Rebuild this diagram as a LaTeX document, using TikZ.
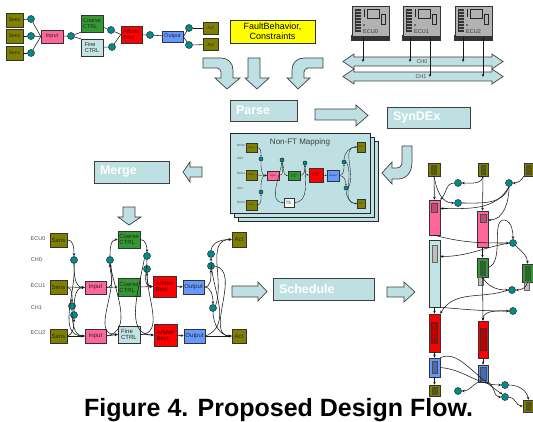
\documentclass[tikz,border=0pt]{standalone}
\usepackage{fontspec}
\setmainfont{Liberation Sans}
\usetikzlibrary{arrows.meta}
\definecolor{oliv}{RGB}{128,128,0}
\definecolor{tealc}{RGB}{0,140,140}
\definecolor{pinkc}{RGB}{255,102,153}
\definecolor{greenc}{RGB}{51,153,51}
\definecolor{finec}{RGB}{195,228,228}
\definecolor{redc}{RGB}{255,0,0}
\definecolor{bluec}{RGB}{102,153,255}
\definecolor{yelc}{RGB}{255,255,0}
\definecolor{cyanl}{RGB}{190,224,226}
\definecolor{ecug}{RGB}{178,178,178}
\begin{document}
\begin{tikzpicture}[x=1pt,y=-1pt,
  bx/.style={draw=black!80, line width=0.5pt, inner sep=0pt, align=left, text=black!85},
  sz/.style 2 args={minimum width=#1pt, minimum height=#2pt},
  fs/.style={font=\fontsize{#1}{#1}\selectfont},
  sens/.style={bx, fill=oliv},
  inp/.style={bx, fill=pinkc},
  coarse/.style={bx, fill=greenc},
  fine/.style={bx, fill=finec},
  arb/.style={bx, fill=redc, text=red!30!black},
  outp/.style={bx, fill=bluec},
  tdot/.style={circle, draw=black!85, fill=tealc, line width=0.5pt, inner sep=0pt, minimum size=#1pt},
  tdot/.default=7,
  cn/.style={draw=black!90, line width=0.55pt},
  arw/.style={cn, -{Stealth[length=3pt,width=2.6pt]}},
  arws/.style={draw=black!90, line width=0.35pt, -{Stealth[length=1.6pt,width=1.4pt]}},
  bigar/.style={fill=cyanl, draw=black!75, line width=0.7pt, line join=miter},
  stepbx/.style={fill=cyanl, draw=black!75, line width=0.8pt, inner xsep=6pt, inner ysep=0pt, align=left, text=white, font=\bfseries\fontsize{12.5}{12.5}\selectfont},
  lab/.style={fs=5.5, text=black!70, inner sep=0pt},
  ecubox/.style={fill=ecug, draw=black!80, line width=0.9pt, inner sep=0pt, minimum width=37pt, minimum height=30pt},
]
\useasboundingbox (0,0) rectangle (533,422);
\clip (0,0) rectangle (533,422);

% ---------------- top-left graph ----------------
\node[sens, sz={17}{14}, fs=5] (t_s1) at (14.5,20) {Sens};
\node[sens, sz={17}{14}, fs=5] (t_s2) at (14.5,36) {Sens};
\node[sens, sz={17}{14}, fs=5] (t_s3) at (14.5,53) {Sens};
\node[tdot] (t_c1) at (31,19) {};
\node[tdot] (t_c2) at (31,36) {};
\node[tdot] (t_c3) at (31,53) {};
\node[inp, sz={22}{13}, fs=5.5] (t_in) at (52,36.5) {Input};
\node[tdot] (t_c4) at (71,36) {};
\node[coarse, sz={22}{17}, fs=5.5] (t_co) at (92,23.5) {Coarse\\CTRL};
\node[fine, sz={22}{17}, fs=5.5] (t_fi) at (92,47.5) {Fine\\CTRL};
\node[tdot] (t_c5) at (111,30) {};
\node[tdot] (t_c6) at (112,47) {};
\node[arb, sz={21}{17}, fs=5.5] (t_ar) at (131.5,34.5) {Arbiter\\Best};
\node[tdot] (t_c7) at (150,35) {};
\node[outp, sz={21}{11}, fs=5.5] (t_ou) at (172.5,36.5) {Output};
\node[tdot] (t_c8) at (189,28) {};
\node[tdot] (t_c9) at (189,45) {};
\node[sens, sz={15}{12}, fs=4.5] (t_a1) at (210.5,28) {Act};
\node[sens, sz={15}{12}, fs=4.5] (t_a2) at (210.5,44.5) {Act};
\draw[cn] (t_s1) -- (t_c1);
\draw[cn] (t_s2) -- (t_c2);
\draw[cn] (t_s3) -- (t_c3);
\draw[cn] (t_c1) -- (t_in.west);
\draw[cn] (t_c2) -- (t_in.west);
\draw[cn] (t_c3) -- (t_in.west);
\draw[cn] (t_in) -- (t_c4);
\draw[cn] (t_c4) -- (t_co.south west);
\draw[cn] (t_c4) -- (t_fi.north west);
\draw[cn] (t_co) -- (t_c5);
\draw[cn] (t_fi) -- (t_c6);
\draw[cn] (t_c5) -- (t_ar.west);
\draw[cn] (t_c6) -- (t_ar.west);
\draw[cn] (t_ar) -- (t_c7);
\draw[cn] (t_c7) -- (t_ou);
\draw[cn] (t_ou.east) -- (t_c8);
\draw[cn] (t_ou.east) -- (t_c9);
\draw[cn] (t_c8) -- (t_a1);
\draw[cn] (t_c9) -- (t_a2);

% ---------------- FaultBehavior ----------------
\node[bx, fill=yelc, sz={85}{23}, fs=9, align=center, text=black] (fb) at (272.5,31.5) {FaultBehavior,\\[1pt]Constraints};

% ---------------- big arrows top ----------------
\draw[bigar] (203,58) -- (221,58) .. controls (228,58) and (233,63) .. (233,70) -- (233,78) -- (240,78) -- (227,89) -- (215,78) -- (221,78) -- (221,72) .. controls (221,70) and (219,68) .. (217,68) -- (203,68) -- cycle;
\draw[bigar] (248,58) -- (260,58) -- (260,78) -- (269,78) -- (257,89) -- (245,78) -- (248,78) -- cycle;
\draw[bigar] (323,58) -- (304,58) .. controls (297,58) and (292,63) .. (292,70) -- (292,78) -- (287,78) -- (298,89) -- (310,78) -- (304,78) -- (304,72) .. controls (304,70) and (306,68) .. (308,68) -- (323,68) -- cycle;

% ---------------- ECUs and buses ----------------
\foreach \n/\x/\lb in {e0/352/ECU0,e1/403/ECU1,e2/455/ECU2}{
  \fill[black!80] (\x-1,35) rectangle (\x+38,41);
  \node[ecubox, anchor=north west] (\n) at (\x,6) {};
  \fill[black!80] (\x+3,9) rectangle (\x+9,32);
  \foreach \yy in {11,14,...,30} \draw[black!35, line width=0.6pt] (\x+3.5,\yy) -- (\x+8.5,\yy);
  \draw[black!85, line width=0.8pt] (\x+12,9) -- (\x+12,17);
  \fill[black!85] (\x+12,25) circle[radius=0.8pt];
  \draw[black!85, line width=0.7pt] (\x+15,9) rectangle (\x+27,18);
  \draw[black!85, line width=0.7pt] (\x+29,14) rectangle (\x+33,24);
  \node[lab, text=black!80, anchor=west] (\n-lab) at (\x+11,32) {\lb};
}
\draw[bigar] (343,76.5) -- (354,69) -- (354,72) -- (492,72) -- (492,69) -- (503,76.5) -- (492,84) -- (492,81) -- (354,81) -- (354,84) -- cycle;
\draw[bigar] (343,61.5) -- (354,54) -- (354,57) -- (492,57) -- (492,54) -- (503,61.5) -- (492,69) -- (492,66) -- (354,66) -- (354,69) -- cycle;
\node[lab] (ch0) at (422,61.5) {CH0};
\node[lab] (ch1) at (421,77) {CH1};
\coordinate (b0a) at (363,62);
\coordinate (b1a) at (410,62);
\coordinate (b1b) at (430,77);
\coordinate (b2a) at (463,62);
\coordinate (b2b) at (483,77);
\draw[arw, line width=0.8pt] (e0.south -| b0a) -- (b0a);
\draw[arw, line width=0.8pt] (e1.south -| b1a) -- (b1a);
\draw[arw, line width=0.8pt] (e1.south -| b1b) -- (b1b);
\draw[arw, line width=0.8pt] (e2.south -| b2a) -- (b2a);
\draw[arw, line width=0.8pt] (e2.south -| b2b) -- (b2b);

% ---------------- steps ----------------
\node[stepbx, text width=55pt, minimum height=21pt] (parse) at (263.5,110.5) {Parse};
\node[stepbx, text width=71pt, minimum height=21pt] (syndex) at (428.5,117.5) {SynDEx};
\node[stepbx, text width=63pt, minimum height=22pt] (merge) at (131.5,172) {Merge};
\node[stepbx, text width=89pt, minimum height=22pt] (sched) at (323.5,289) {Schedule};
\draw[bigar] (315,109) -- (356,109) -- (356,105) -- (368,115.5) -- (356,126) -- (356,120) -- (315,120) -- cycle;
\draw[bigar] (402,146) -- (412,146) -- (412,162) .. controls (412,173) and (406,179) .. (398,179) -- (392,179) -- (392,184) -- (382,173) -- (392,162) -- (392,168) -- (396,168) .. controls (400,168) and (402,166) .. (402,162) -- cycle;
\draw[bigar] (202,167) -- (190,167) -- (190,162) -- (183,172) -- (190,182) -- (190,177) -- (202,177) -- cycle;
\draw[bigar] (123,207) -- (135,207) -- (135,217) -- (141,217) -- (129,225) -- (118,217) -- (123,217) -- cycle;
\draw[bigar] (232,286) -- (258,286) -- (258,282) -- (267,291.5) -- (258,301) -- (258,297) -- (232,297) -- cycle;
\draw[bigar] (387,287) -- (404,287) -- (404,282) -- (415,292) -- (404,302) -- (404,297) -- (387,297) -- cycle;

% ---------------- Non-FT mapping sheets ----------------
\draw[fill=cyanl, draw=black!85, line width=0.6pt] (238,141) rectangle (378,221);
\draw[fill=cyanl, draw=black!85, line width=0.6pt] (234,137) rectangle (374,217);
\draw[fill=cyanl, draw=black!85, line width=0.6pt] (230,133) rectangle (370,213);
\node[fs=8, text=black!75, inner sep=0pt] (mtitle) at (300,142) {Non-FT Mapping};
\node[lab, fs=3] (m_l0) at (241,145) {ECU0};
\node[lab, fs=3] (m_l1) at (240,158) {CH0};
\node[lab, fs=3] (m_l2) at (241,173) {ECU1};
\node[lab, fs=3] (m_l3) at (240,188) {CH1};
\node[lab, fs=3] (m_l4) at (241,202) {ECU2};
\node[sens, sz={11}{9}, fs=2.5] (m_s1) at (251.5,147.5) {Sens};
\node[sens, sz={11}{10}, fs=2.5] (m_s2) at (251.5,175) {Sens};
\node[sens, sz={11}{10}, fs=2.5] (m_s3) at (251.5,205) {Sens};
\node[tdot=4] (m_c1) at (261,159) {};
\node[tdot=4] (m_c2) at (261,192) {};
\node[inp, sz={12}{9}, fs=2.5] (m_in) at (273,175.5) {Input};
\node[tdot=4] (m_c3) at (282,160) {};
\node[coarse, sz={12}{9}, fs=2.2] (m_co) at (294,175.5) {Coarse\\CTRL};
\node[bx, fill=white!85!cyanl, sz={10}{9}, fs=2.2] (m_fi) at (289,202.5) {Fine\\CTRL};
\node[tdot=4] (m_c4) at (305,163) {};
\node[arb, sz={14}{14}, fs=2.2] (m_ar) at (316,175) {Arbiter\\Best};
\node[outp, sz={12}{11}, fs=2.5] (m_ou) at (333,175.5) {Output};
\node[tdot=4] (m_c5) at (344,162) {};
\node[tdot=4] (m_c6) at (346,188) {};
\node[sens, sz={8}{10}, fs=2.5] (m_a1) at (361,147) {Act};
\node[sens, sz={8}{9}, fs=2.5] (m_a2) at (361,203.5) {Act};
\draw[arws] (m_s1.east) to[out=0,in=90] (m_c1.north);
\draw[arws] (m_c1.south) to[out=-90,in=180] (m_in.west);
\draw[arws] (m_s2.east) -- (m_in.west);
\draw[arws] (m_s3.east) to[out=0,in=-90] (m_c2.south);
\draw[arws] (m_c2.north) to[out=90,in=180] (m_in.west);
\draw[arws] (m_in.east) to[out=0,in=-90] (m_c3.south);
\draw[arws] (m_c3.south) to[out=-60,in=180] (m_co.west);
\draw[arws] (m_c3.south) to[out=-100,in=180] (m_fi.west);
\draw[arws] (m_co.east) to[out=0,in=-90] (m_c4.south);
\draw[arws] (m_fi.east) to[out=0,in=-90] (m_c4.south);
\draw[arws] (m_c4.south) to[out=-90,in=180] (m_ar.west);
\draw[arws] (m_ar) -- (m_ou);
\draw[arws] (m_ou.east) to[out=0,in=-90] (m_c5.south);
\draw[arws] (m_ou.east) to[out=0,in=90] (m_c6.north);
\draw[arws] (m_c5.north) to[out=90,in=180] (m_a1.west);
\draw[arws] (m_c6.south) to[out=-90,in=180] (m_a2.west);
\draw[arws] (m_c5.east) to[out=-60,in=180] (m_a2.west);
\draw[arws] (m_c6.east) to[out=60,in=180] (m_a1.west);

% ---------------- left big graph ----------------
\node[lab] (L_l0) at (38,239) {ECU0};
\node[lab] (L_l1) at (36.5,260) {CH0};
\node[lab] (L_l2) at (38,286) {ECU1};
\node[lab] (L_l3) at (36.5,308) {CH1};
\node[lab] (L_l4) at (38,333) {ECU2};
\node[sens, sz={17}{14}, fs=6] (L_s1) at (58.5,240) {Sens};
\node[sens, sz={17}{14}, fs=6] (L_s2) at (58.5,287) {Sens};
\node[sens, sz={17}{14}, fs=6] (L_s3) at (58.5,336) {Sens};
\node[tdot] (L_c1) at (74,260) {};
\node[tdot] (L_c2) at (72,306) {};
\node[tdot] (L_c3) at (74,315) {};
\node[inp, sz={21}{13}, fs=6] (L_i1) at (95.5,287.5) {Input};
\node[inp, sz={21}{14}, fs=6] (L_i2) at (95.5,336) {Input};
\node[tdot] (L_c4) at (110,260) {};
\node[coarse, sz={22}{17}, fs=6] (L_co1) at (129,239.5) {Coarse\\CTRL};
\node[coarse, sz={22}{18}, fs=6] (L_co2) at (129,287) {Coarse\\CTRL};
\node[fine, sz={22}{17}, fs=6] (L_fi) at (129,334.5) {Fine\\CTRL};
\node[tdot] (L_c5) at (147,256) {};
\node[tdot] (L_c6) at (147,269) {};
\node[arb, sz={23}{21}, fs=6] (L_ar1) at (164.5,286.5) {Arbiter\\Best};
\node[arb, sz={23}{22}, fs=6] (L_ar2) at (165.5,335) {Arbiter\\Best};
\node[outp, sz={21}{14}, fs=6] (L_o1) at (193.5,287) {Output};
\node[outp, sz={21}{14}, fs=6] (L_o2) at (194.5,336) {Output};
\node[tdot] (L_c7) at (211,254) {};
\node[tdot] (L_c8) at (211,266) {};
\node[tdot] (L_c9) at (213,308) {};
\node[sens, sz={14}{15}, fs=6] (L_a1) at (239,239.5) {Act};
\node[sens, sz={14}{14}, fs=6] (L_a2) at (239,336) {Act};
\draw[arw] (L_s1.east) to[out=0,in=90] (L_c1.north);
\draw[arw] (L_c1.south) to[out=-90,in=180] (L_i1.west);
\draw[arw] (L_c1.south) to[out=-85,in=180] (L_i2.west);
\draw[arw] (L_s2.east) -- (L_i1.west);
\draw[arw] (L_s2.east) to[out=-20,in=90] (L_c2.north);
\draw[arw] (L_c2.south) to[out=-90,in=180] (L_i2.west);
\draw[arw] (L_s3.east) -- (L_i2.west);
\draw[arw] (L_s3.east) to[out=20,in=-90] (L_c3.south);
\draw[arw] (L_c3.north) to[out=90,in=180] (L_i1.west);
\draw[arw] (L_i1.east) -- (L_co2.west);
\draw[arw] (L_i1.east) to[out=0,in=-90] (L_c4.south);
\draw[arw] (L_i2.east) -- (L_fi.west);
\draw[arw] (L_i2.east) to[out=10,in=-80] (L_c4.south);
\draw[arw] (L_c4.north) to[out=90,in=180] (L_co1.west);
\draw[arw] (L_c4.south) to[out=-70,in=180] (L_fi.west);
\draw[arw] (L_co1.east) to[out=0,in=90] (L_c5.north);
\draw[arw] (L_c5.south) to[out=-90,in=180] (L_ar1.west);
\draw[arw] (L_c5.south west) to[out=-100,in=180] (L_ar2.west);
\draw[arw] (L_co2.east) -- (L_ar1.west);
\draw[arw] (L_fi.east) -- (L_ar2.west);
\draw[arw] (L_fi.east) to[out=0,in=-90] (L_c6.south);
\draw[arw] (L_c6.south) to[out=-90,in=180] (L_ar1.west);
\draw[arw] (L_ar1) -- (L_o1);
\draw[arw] (L_ar2) -- (L_o2);
\draw[arw] (L_o1.east) to[out=0,in=-90] (L_c8.south);
\draw[arw] (L_o1.east) to[out=0,in=90] (L_c9.north);
\draw[arw] (L_o2.east) -- (L_a2.west);
\draw[arw] (L_o2.east) to[out=20,in=-90] (L_c7.south);
\draw[arw] (L_c7.north) to[out=80,in=180] (L_a1.west);
\draw[arw] (L_c8.east) to[out=-10,in=180] (L_a2.west);
\draw[arw] (L_c9.north east) to[out=70,in=180] (L_a1.west);
\draw[arw] (L_c9.south) to[out=-90,in=180] (L_a2.west);

% ---------------- right schedule ----------------
\node[sens, sz={12}{13}] (R_s1) at (434,169.5) {};
\node[sens, sz={10}{13}] (R_s2) at (483,169.5) {};
\node[sens, sz={10}{13}] (R_s3) at (529,169.5) {};
\node[tdot] (R_c1) at (458,183) {};
\node[tdot] (R_c2) at (509,183) {};
\node[tdot] (R_c3) at (458,203) {};
\node[inp, sz={11}{35}] (R_p1) at (434.5,217.5) {};
\node[inp, sz={11}{36}] (R_p2) at (482.5,229) {};
\node[fine, sz={11}{67}] (R_f1) at (434.5,273.5) {};
\node[tdot] (R_c4) at (513,243) {};
\node[coarse, sz={11}{19}] (R_g1) at (482.5,267.5) {};
\node[coarse, sz={11}{18}] (R_g2) at (527.5,273) {};
\node[tdot] (R_c5) at (512,290) {};
\node[tdot] (R_c6) at (513,311) {};
\node[arb, sz={11}{38}] (R_r1) at (434.5,333) {};
\node[arb, sz={10}{37}] (R_r2) at (483,339.5) {};
\node[outp, sz={11}{19}] (R_b1) at (434.5,367.5) {};
\node[outp, sz={10}{17}] (R_b2) at (483,373.5) {};
\node[sens, sz={11}{11}] (R_o1) at (434.5,390.5) {};
\node[tdot] (R_c7) at (458,391) {};
\node[tdot] (R_c8) at (505,385) {};
\node[tdot] (R_c9) at (505,397) {};
\node[sens, sz={11}{12}] (R_o2) at (528.5,406) {};
% inner marks
\draw[black!70, fill=oliv!70!black, line width=0.4pt] (431,165) rectangle (436,174);
\draw[black!70, fill=oliv!70!black, line width=0.4pt] (481,165) rectangle (485,174);
\draw[black!70, fill=oliv!70!black, line width=0.4pt] (526,165) rectangle (531,174);
\draw[black!70, fill=pinkc!75!black, line width=0.4pt] (431,203) rectangle (437,212);
\draw[black!70, fill=pinkc!75!black, line width=0.4pt] (480,214) rectangle (486,222);
\draw[black!60, fill=black!25, line width=0.4pt] (432,245) rectangle (437,262);
\draw[black!70, fill=greenc!70!black, line width=0.4pt] (480,261) rectangle (485,275);
\draw[black!70, fill=greenc!70!black, line width=0.4pt] (525,266) rectangle (530,280);
\draw[black!60, fill=black!25, line width=0.4pt] (478,277) rectangle (483,285);
\draw[black!60, fill=black!25, line width=0.4pt] (524,282) rectangle (529,290);
\draw[black!80, fill=red!75!black, line width=0.4pt] (431,322) rectangle (437,343);
\draw[black!80, fill=red!75!black, line width=0.4pt] (480,328) rectangle (486,350);
\draw[black!70, fill=bluec!70!black, line width=0.4pt] (432,361) rectangle (437,373);
\draw[black!70, fill=bluec!70!black, line width=0.4pt] (480,367) rectangle (486,380);
\draw[black!70, fill=oliv!70!black, line width=0.4pt] (432,387) rectangle (437,394);
\draw[black!70, fill=oliv!70!black, line width=0.4pt] (526,402) rectangle (531,410);
% edges
\draw[arw] (R_s1.south) -- (R_p1.north);
\draw[arw] (R_s1.south) to[out=-80,in=180] (R_c3.west);
\draw[arw] (R_s2.south) -- (R_p2.north);
\draw[arw] (R_s2.south) to[out=-100,in=0] (R_c1.east);
\draw[arw] (R_c1.west) to[out=180,in=45] (R_p1.north east);
\draw[arw] (R_s3.south west) to[out=-120,in=0] (R_c2.east);
\draw[arw] (R_c2.south) to[out=-120,in=0] ([yshift=9pt]R_p1.east);
\draw[arw] (R_c2.south) to[out=-90,in=0] ([yshift=9pt]R_p2.east);
\draw[cn] (R_c3.east) to[out=0,in=-110] (R_c2.south);
\draw[arw] (R_p1.south) to[out=-15,in=180] (R_c4.west);
\draw[arw] (R_c4.west) to[out=190,in=0] ([yshift=17pt]R_f1.east);
\draw[arw] (R_c4.south east) to[out=-45,in=90] (R_g2.north);
\draw[arw] (R_p2.south) -- (R_g1.north);
\draw[arw] (R_g1.east) .. controls (505,262) and (490,218) .. (505,220) .. controls (512,222) and (513,232) .. (R_c4.north);
\draw[arw] (R_g1.south) to[out=-60,in=180] (R_c5.west);
\draw[arw] (R_g2.south) to[out=-100,in=0] (R_c5.east);
\draw[arw] (R_g1.south) -- (R_r2.north);
\draw[arw] (R_f1.south) -- (R_r1.north);
\draw[arw] (R_f1.south east) to[out=-5,in=180] (R_c6.west);
\draw[arw] (R_c6.west) to[out=180,in=90] (R_r2.north);
\draw[arw] (R_c5.west) to[out=200,in=60] (R_r1.north east);
\draw[arw] (R_r1) -- (R_b1);
\draw[arw] (R_r2) -- (R_b2);
\draw[arw] (R_b1) -- (R_o1);
\draw[arw] (R_b1.east) to[out=-5,in=180] (R_c8.west);
\draw[arw] (R_b1.north east) .. controls (458,350) and (470,372) .. (R_c9.north west);
\draw[arw] (R_b2.south west) to[out=-150,in=0] (R_c7.east);
\draw[arw] (R_b2.south east) to[out=-30,in=180] (R_c9.west);
\draw[arw] (R_c8.east) to[out=0,in=100] (R_o2.north);
\draw[arw] (R_c9.east) to[out=0,in=180] (R_o2.west);

% ---------------- caption ----------------
\node[anchor=base west, inner sep=0pt, font=\bfseries\fontsize{25}{25}\selectfont] (cap) at (84,416) {Figure 4. Proposed Design Flow.};
\end{tikzpicture}
\end{document}
